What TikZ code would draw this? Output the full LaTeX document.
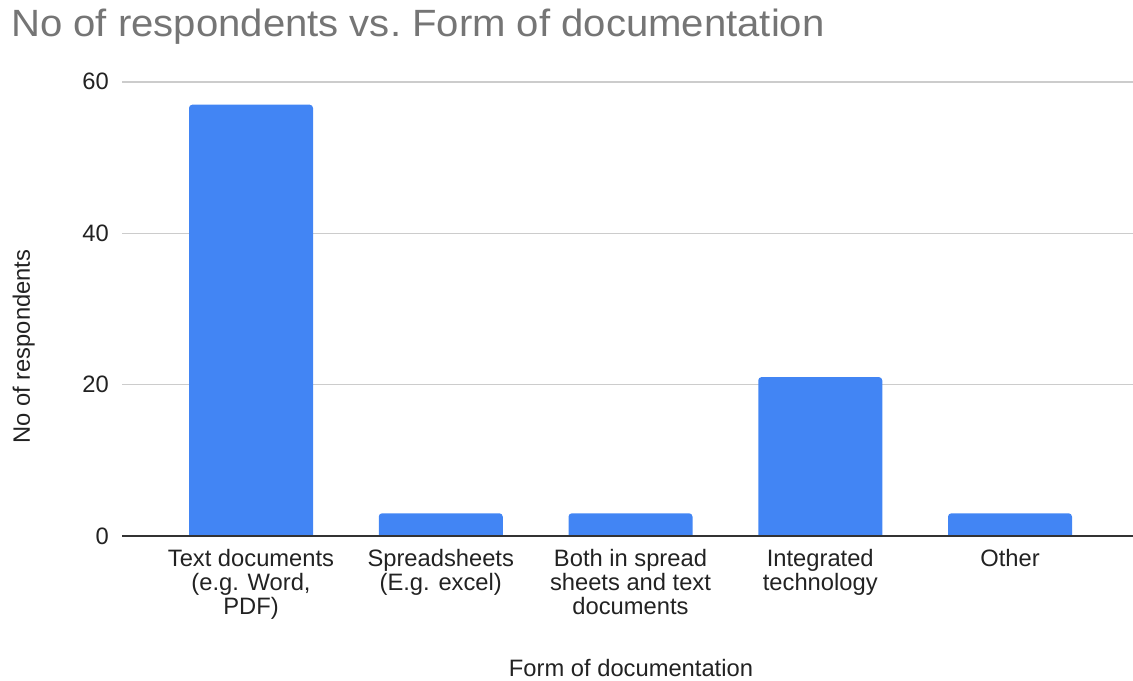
\documentclass[tikz,border=0pt]{standalone}
\usepackage{fontspec}
\setmainfont{Liberation Sans}
\usepackage{graphicx}

\definecolor{barblue}{HTML}{4285F4}
\definecolor{gridgray}{HTML}{CCCCCC}
\definecolor{axisgray}{HTML}{333333}
\definecolor{labelgray}{HTML}{222222}
\definecolor{titlegray}{HTML}{757575}

\tikzset{
  gridline/.style={draw=gridgray, line width=1.2pt},
  baseline/.style={draw=axisgray, line width=1.5pt},
  bar/.style={fill=barblue},
  labelfont/.style={font=\fontsize{17.8}{18}\selectfont},
  ticklabel/.style={labelfont, anchor=base east, inner sep=0pt, text=labelgray},
  catlabel/.style={labelfont, anchor=north, inner sep=0pt, align=center, text=labelgray},
  axistitle/.style={labelfont, inner sep=0pt, text=labelgray},
  charttitle/.style={anchor=base west, inner sep=0pt, text=titlegray,
    font=\fontsize{28.5}{30}\selectfont},
}

% one unit = one pixel, y pointing down
\begin{document}
\begin{tikzpicture}[x=0.75pt, y=-0.75pt]
  \useasboundingbox (0,0) rectangle (1133,681);

  % value scale: zero at y=536, 7.567 px per respondent
  \def\yzero{536}
  \def\yunit{7.567}

  % horizontal grid lines and tick labels
  \foreach \v in {20,40,60} {
    \pgfmathsetmacro\yy{\yzero-\v*\yunit}
    \draw[gridline] (122,\yy) -- (1133,\yy);
    \node[ticklabel] (tick\v) at (109,\yy+8) {\v};
  }
  \node[ticklabel] (tick0) at (109,\yzero+8) {0};

  % bars: centre, value
  \foreach \cx/\val [count=\i] in {251/57, 440.75/3, 630.5/3, 820.25/21, 1010/3} {
    \pgfmathsetmacro\top{\yzero-\val*\yunit}
    \pgfmathsetmacro\l{\cx-62}
    \pgfmathsetmacro\r{\cx+62}
    \fill[bar] (\l,\yzero) [rounded corners=2.5pt] -- (\l,\top) -- (\r,\top)
      [sharp corners] -- (\r,\yzero) -- cycle;
  }

  % axis line
  \draw[baseline] (122,\yzero) -- (1133,\yzero);

  % category labels
  \node[catlabel] (c1) at (251,549)    {Text documents\\(e.g. Word,\\PDF)};
  \node[catlabel] (c2) at (440.75,549) {Spreadsheets\\(E.g. excel)};
  \node[catlabel] (c3) at (630.5,549)  {Both in spread\\sheets and text\\documents};
  \node[catlabel] (c4) at (820.25,549) {Integrated\\technology};
  \node[catlabel] (c5) at (1010,549)   {Other};

  % axis titles
  \node[axistitle, anchor=base] (xtitle) at (631,676.5) {Form of documentation};
  \node[axistitle, anchor=base, rotate=90] (ytitle) at (30,346.5) {No of respondents};

  % chart title
  \node[charttitle] (title) at (11,37)
    {\scalebox{1.055}[1]{No of respondents vs.\ Form of documentation}};
\end{tikzpicture}
\end{document}
